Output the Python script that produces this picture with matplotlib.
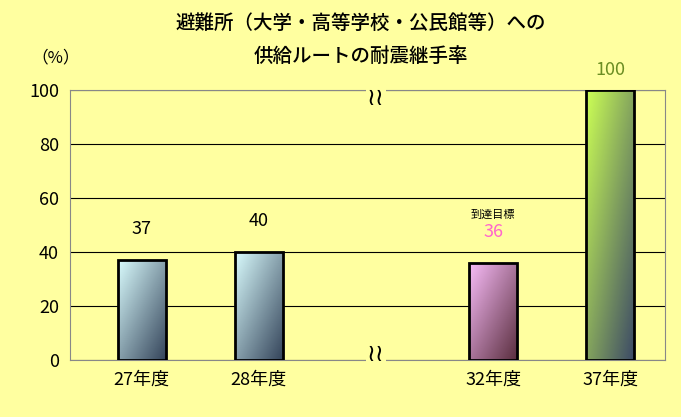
import numpy as np
import matplotlib.pyplot as plt
from matplotlib.colors import LinearSegmentedColormap
from matplotlib.patches import Rectangle

plt.rcParams['font.family'] = ['Noto Sans CJK JP', 'DejaVu Sans']

categories = ["27年度", "28年度", "32年度", "37年度"]
positions = [0, 1, 3, 4]
values = [37, 40, 36, 100]
label_colors = ["black", "black", "#FF66CC", "#6B8E23"]
grads = [("#D8FAFC", "#34445A"), ("#D8FAFC", "#34445A"),
         ("#F8BCF8", "#5A2E3E"), ("#CCFF55", "#3C4A66")]

bg = "#FFFFA0"
fig = plt.figure(figsize=(6.81, 4.17), dpi=100, facecolor=bg)
ax = fig.add_axes([0.103, 0.137, 0.874, 0.647], facecolor=bg)

width = 0.41
xx, yy = np.meshgrid(np.linspace(0, 1, 50), np.linspace(0, 1, 50))
g = (xx + (1 - yy)) / 2
for x, v, (c1, c2) in zip(positions, values, grads):
    cmap = LinearSegmentedColormap.from_list("g", [c1, c2])
    ext = [x - width / 2, x + width / 2, 0, v]
    im = ax.imshow(g, cmap=cmap, extent=ext, origin="lower", aspect="auto", zorder=3)
    r = Rectangle((x - width / 2, 0), width, v, fill=False, ec="black", lw=2, zorder=4)
    ax.add_patch(r)
    im.set_clip_path(r)

for x, v, c in zip(positions, values, label_colors):
    off = 4 if v == 100 else 8
    ax.text(x, v + off, str(v), ha="center", va="bottom", fontsize=13, color=c)
ax.text(3, 36 + 16, "到達目標", ha="center", va="bottom", fontsize=8)

ax.set_xlim(-0.61, 4.47)
ax.set_ylim(0, 100)
ax.set_yticks(range(0, 101, 20))
ax.yaxis.grid(True, color="black", lw=0.8)
ax.set_axisbelow(True)
ax.set_xticks(positions)
ax.set_xticklabels(categories, fontsize=13)
ax.tick_params(axis="y", labelsize=13, length=0, pad=8)
ax.tick_params(axis="x", length=0, pad=8)
for s in ax.spines.values():
    s.set_color("#888888")
for yb in (97, 2):
    ax.text(2, yb, "≀≀", ha="center", va="center", fontsize=17, family="DejaVu Sans",
            bbox=dict(fc=bg, ec="none", pad=0.5), zorder=5)

fig.text(0.53, 0.945, "避難所（大学・高等学校・公民館等）への", ha="center", va="center",
         fontsize=14, fontweight="medium")
fig.text(0.53, 0.865, "供給ルートの耐震継手率", ha="center", va="center",
         fontsize=14, fontweight="medium")
fig.text(0.082, 0.86, "（%）", ha="center", va="center", fontsize=12)

fig.savefig("out.png", dpi=100, facecolor=bg)
